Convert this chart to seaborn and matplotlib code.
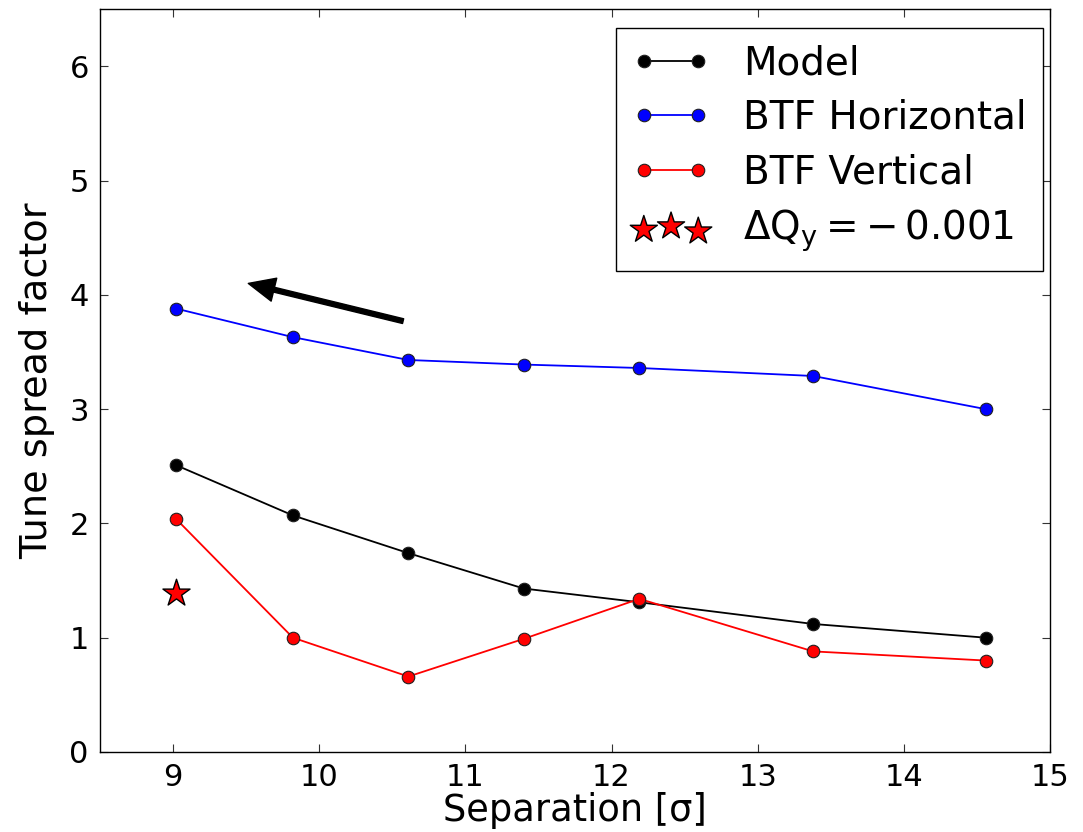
import matplotlib
matplotlib.use("Agg")
import matplotlib.pyplot as plt
import seaborn as sns
import pandas as pd

# ---- data ----
separation = [9.02, 9.82, 10.61, 11.40, 12.19, 13.38, 14.56]
model = [2.51, 2.07, 1.74, 1.43, 1.31, 1.12, 1.00]
btf_horizontal = [3.88, 3.63, 3.43, 3.39, 3.36, 3.29, 3.00]
btf_vertical = [2.04, 1.00, 0.66, 0.99, 1.34, 0.88, 0.80]
star_x = [9.02]
star_y = [1.39]
series_labels = ["Model", "BTF Horizontal", "BTF Vertical"]
star_label = r"$\Delta Q_y = -\,0.001$"
xticks = [9, 10, 11, 12, 13, 14, 15]
yticks = [0, 1, 2, 3, 4, 5, 6]

sns.set_theme(style="white")
plt.rcParams.update({
    "font.family": ["DejaVu Sans"],
    "text.color": "black",
    "axes.labelcolor": "black",
    "xtick.direction": "in",
    "ytick.direction": "in",
    "xtick.top": True,
    "ytick.right": True,
    "xtick.bottom": True,
    "ytick.left": True,
    "xtick.major.size": 6,
    "ytick.major.size": 6,
    "xtick.major.width": 0.8,
    "ytick.major.width": 0.8,
    "xtick.color": "#333333",
    "ytick.color": "#333333",
    "xtick.labelcolor": "black",
    "ytick.labelcolor": "black",
    "axes.edgecolor": "black",
    "axes.linewidth": 1.0,
    "mathtext.fontset": "dejavusans",
    "mathtext.default": "regular",
})

fig = plt.figure(figsize=(10.83, 8.32), dpi=100)
ax = fig.add_axes([0.0923, 0.0962, 0.8772, 0.8928])

df = pd.DataFrame({
    "sep": separation * 3,
    "val": model + btf_horizontal + btf_vertical,
    "series": [series_labels[0]] * 7 + [series_labels[1]] * 7 + [series_labels[2]] * 7,
})
colors = {"Model": "black", "BTF Horizontal": "#0000ff", "BTF Vertical": "#ff0000"}
for name in series_labels:
    sub = df[df["series"] == name]
    sns.lineplot(data=sub, x="sep", y="val", ax=ax, color=colors[name],
                 marker="o", markersize=9, markeredgecolor="#202020",
                 markeredgewidth=0.8, linewidth=1.3, label=name)

sns.scatterplot(x=star_x, y=star_y, ax=ax, marker="*", s=420, color="#ff0000",
                edgecolor="black", linewidth=1.0, label=star_label, zorder=5)

ax.annotate("", xy=(9.515, 4.10), xytext=(10.574, 3.77),
            arrowprops=dict(facecolor="black", edgecolor="black", width=3.5,
                            headwidth=17, headlength=19, shrink=0.0))

ax.set_xlim(8.5, 15)
ax.set_ylim(0, 6.5)
ax.set_xticks(xticks)
ax.set_yticks(yticks)
ax.tick_params(labelsize=22, pad=8)
ax.set_xlabel("Separation [σ]", fontsize=26.5, labelpad=0)
ax.set_ylabel("Tune spread factor", fontsize=27.5, labelpad=10)

leg = ax.legend(loc="upper right", bbox_to_anchor=(0.9926, 0.9744),
                fontsize=28, numpoints=2, scatterpoints=3,
                frameon=True, fancybox=False, framealpha=1, edgecolor="black",
                handlelength=2.0, handletextpad=0.85, labelspacing=0.42,
                borderpad=0.42, borderaxespad=0.0)
leg.get_frame().set_linewidth(1.0)

fig.savefig("out.png", dpi=100)
